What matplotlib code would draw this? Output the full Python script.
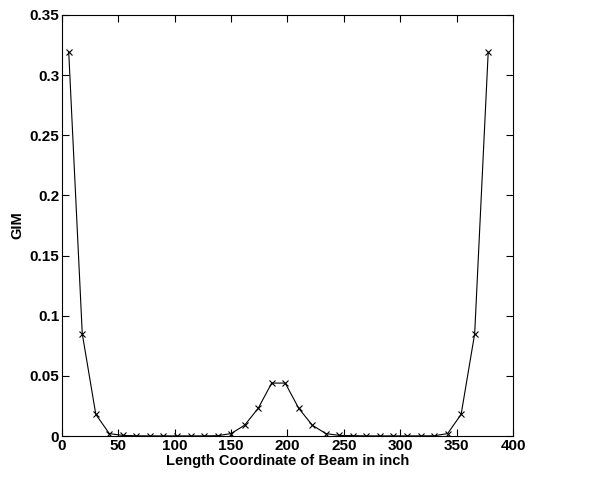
import matplotlib
matplotlib.use("Agg")
import matplotlib.pyplot as plt

# element centre coordinates along the beam (inch) and GIM values
x_coord = [6, 18, 30, 42, 54, 66, 78, 90, 102, 114, 126, 138, 150, 162, 174, 186,
           198, 210, 222, 234, 246, 258, 270, 282, 294, 306, 318, 330, 342, 354, 366, 378]
gim = [0.319, 0.085, 0.018, 0.002, 0.0005, 0.0002, 0.0001, 0.0001, 0.0001, 0.0001,
       0.0001, 0.0003, 0.002, 0.009, 0.023, 0.044,
       0.044, 0.023, 0.009, 0.002, 0.0005, 0.0003, 0.0001, 0.0001, 0.0001, 0.0001,
       0.0001, 0.0002, 0.002, 0.018, 0.085, 0.319]

x_ticks = [0, 50, 100, 150, 200, 250, 300, 350, 400]
y_ticks = [0, 0.05, 0.1, 0.15, 0.2, 0.25, 0.3, 0.35]
y_labels = ["0", "0.05", "0.1", "0.15", "0.2", "0.25", "0.3", "0.35"]

plt.rcParams['font.family'] = ['Liberation Sans', 'DejaVu Sans']

fig = plt.figure(figsize=(6.16, 4.82), dpi=100)
ax = fig.add_axes([0.1006, 0.0954, 0.7322, 0.8736])

ax.plot(x_coord, gim, color="black", linewidth=0.8, marker="x",
        markersize=4, markeredgewidth=0.8)

ax.set_xlim(0, 400)
ax.set_ylim(0, 0.35)
ax.set_xticks(x_ticks)
ax.set_yticks(y_ticks)
ax.set_yticklabels(y_labels)
ax.tick_params(direction="in", top=True, right=True, length=5, width=0.8,
               labelsize=11, pad=2)
for lbl in ax.get_xticklabels() + ax.get_yticklabels():
    lbl.set_fontweight("bold")
for sp in ax.spines.values():
    sp.set_linewidth(0.8)

ax.set_xlabel("Length Coordinate of Beam in inch", fontsize=10.5,
              fontweight="bold", labelpad=1)
ax.set_ylabel("GIM", fontsize=10.5, fontweight="bold", labelpad=4)

fig.savefig("out.png", dpi=100)
